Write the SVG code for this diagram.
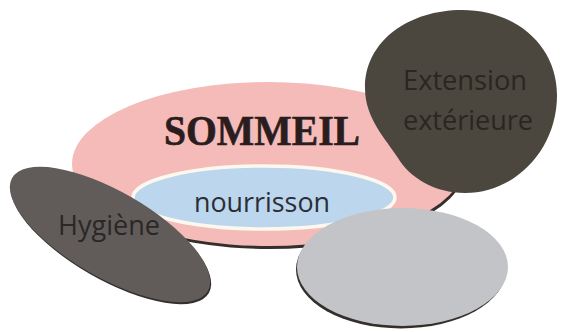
<svg xmlns="http://www.w3.org/2000/svg" width="561" height="332" viewBox="0 0 561 332">
<style>
.shadow{fill:#352f2c}
.lbl{font-family:"Open Sans","Noto Sans","Liberation Sans",sans-serif;font-size:28px;text-anchor:middle}
.title{font-family:"Liberation Serif","DejaVu Serif",serif;font-weight:bold;font-size:42px;text-anchor:middle;fill:#2b1d1d;stroke:#2b1d1d;stroke-width:0.6}
</style>
<rect width="561" height="332" fill="#ffffff"/>
<g id="sommeil">
  <ellipse class="shadow" cx="269" cy="167" rx="196" ry="82"/>
  <ellipse cx="268" cy="164" rx="196" ry="82" fill="#f4bbb9"/>
  <text class="title" x="262" y="145" textLength="196" lengthAdjust="spacingAndGlyphs">SOMMEIL</text>
</g>
<g id="nourrisson">
  <ellipse cx="264" cy="197.5" rx="131" ry="31.5" fill="#bcd6ee" stroke="#fdf8ee" stroke-width="3.5"/>
  <text class="lbl" x="262" y="212" fill="#2a2e36" textLength="136" lengthAdjust="spacingAndGlyphs">nourrisson</text>
</g>
<g id="hygiene">
  <ellipse class="shadow" cx="111" cy="236.5" rx="113" ry="43" transform="rotate(30 111 236.5)"/>
  <ellipse cx="110" cy="234.5" rx="113" ry="43" fill="#615c5a" transform="rotate(30 110 234.5)"/>
  <text class="lbl" x="109" y="235" fill="#2a2726" textLength="102" lengthAdjust="spacingAndGlyphs">Hygiène</text>
</g>
<g id="extension">
  <path d="M462,10 C515,10 557,45 557,95 C557,150 515,193 465,193 C435,193 410,178 398,158 C385,138 365,118 365,88 C365,40 410,10 462,10 Z" fill="#4b463e"/>
  <text class="lbl" x="465" y="90" fill="#2a2621" textLength="124" lengthAdjust="spacingAndGlyphs">Extension</text>
  <text class="lbl" x="468" y="130" fill="#2a2621" textLength="130" lengthAdjust="spacingAndGlyphs">extérieure</text>
</g>
<g id="vide">
  <ellipse class="shadow" cx="401" cy="269.5" rx="105" ry="59"/>
  <ellipse cx="402.5" cy="267" rx="105.5" ry="59" fill="#c3c4c8"/>
</g>
</svg>
